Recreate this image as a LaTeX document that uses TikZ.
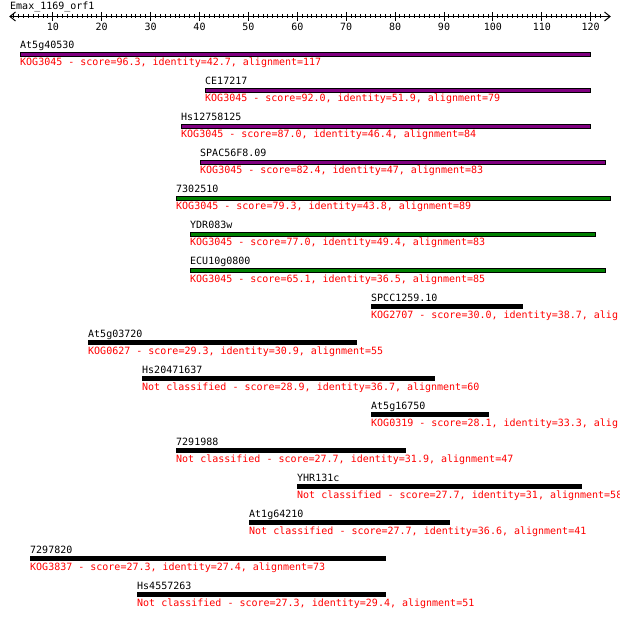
\documentclass[tikz,border=0pt]{standalone}
\usepackage{fontspec}
\newfontfamily\kogmono{DejaVu Sans Mono}
\definecolor{kpurple}{RGB}{128,0,128}
\definecolor{kgreen}{RGB}{0,128,0}
\newcommand\kogrow[6]{%
  \pgfmathsetmacro\yb{52+36*#1}%
  \node[lbl] (n#1) at (#4,\yb-3) {#2};%
  \filldraw[hitbar, fill=#3] (#4+0.5,\yb+0.5) rectangle (#5-0.5,\yb+4.5);%
  \node[info] (i#1) at (#4,\yb+14) {#6};%
}
\begin{document}
\begin{tikzpicture}[x=1pt,y=-1pt,
  font=\kogmono\fontsize{10}{12}\selectfont,
  lbl/.style={anchor=base west, inner sep=0pt, text=black},
  info/.style={anchor=base west, inner sep=0pt, text=red},
  ticklbl/.style={anchor=base, inner sep=0pt, text=black},
  hitbar/.style={draw=black, line width=1pt},
  axisline/.style={line width=1pt, line cap=butt}]
\useasboundingbox (0,0) rectangle (620,617);
\fill[white] (0,0) rectangle (620,617);
\clip (0,0) rectangle (620,617);
% axis
\node[lbl] (title) at (10,10) {Emax\_1169\_orf1};
\coordinate (axL) at (10,16.5);
\coordinate (axR) at (610,16.5);
\draw[axisline] (axL) -- (axR);
\draw[axisline] (15.5,12) -- (axL) -- (15.5,21);
\draw[axisline] (604.5,12) -- (axR) -- (604.5,21);
\foreach \v in {2,...,122} {
  \pgfmathsetmacro\xx{52.8+(\v-10)*4.89}
  \draw[axisline] (\xx,14.5) -- (\xx,18.5);
}
\foreach \v in {10,20,...,120} {
  \pgfmathsetmacro\xx{52.8+(\v-10)*4.89}
  \draw[axisline] (\xx,12) -- (\xx,21);
  \node[ticklbl] (t\v) at (\xx,31) {\v};
}
% hits
\kogrow{0}{At5g40530}{kpurple}{20}{591}{KOG3045 - score=96.3, identity=42.7, alignment=117}
\kogrow{1}{CE17217}{kpurple}{205}{591}{KOG3045 - score=92.0, identity=51.9, alignment=79}
\kogrow{2}{Hs12758125}{kpurple}{181}{591}{KOG3045 - score=87.0, identity=46.4, alignment=84}
\kogrow{3}{SPAC56F8.09}{kpurple}{200}{606}{KOG3045 - score=82.4, identity=47, alignment=83}
\kogrow{4}{7302510}{kgreen}{176}{611}{KOG3045 - score=79.3, identity=43.8, alignment=89}
\kogrow{5}{YDR083w}{kgreen}{190}{596}{KOG3045 - score=77.0, identity=49.4, alignment=83}
\kogrow{6}{ECU10g0800}{kgreen}{190}{606}{KOG3045 - score=65.1, identity=36.5, alignment=85}
\kogrow{7}{SPCC1259.10}{black}{371}{523}{KOG2707 - score=30.0, identity=38.7, alig}
\kogrow{8}{At5g03720}{black}{88}{357}{KOG0627 - score=29.3, identity=30.9, alignment=55}
\kogrow{9}{Hs20471637}{black}{142}{435}{Not classified - score=28.9, identity=36.7, alignment=60}
\kogrow{10}{At5g16750}{black}{371}{489}{KOG0319 - score=28.1, identity=33.3, alig}
\kogrow{11}{7291988}{black}{176}{406}{Not classified - score=27.7, identity=31.9, alignment=47}
\kogrow{12}{YHR131c}{black}{297}{582}{Not classified - score=27.7, identity=31, alignment=58}
\kogrow{13}{At1g64210}{black}{249}{450}{Not classified - score=27.7, identity=36.6, alignment=41}
\kogrow{14}{7297820}{black}{30}{386}{KOG3837 - score=27.3, identity=27.4, alignment=73}
\kogrow{15}{Hs4557263}{black}{137}{386}{Not classified - score=27.3, identity=29.4, alignment=51}
\end{tikzpicture}
\end{document}
